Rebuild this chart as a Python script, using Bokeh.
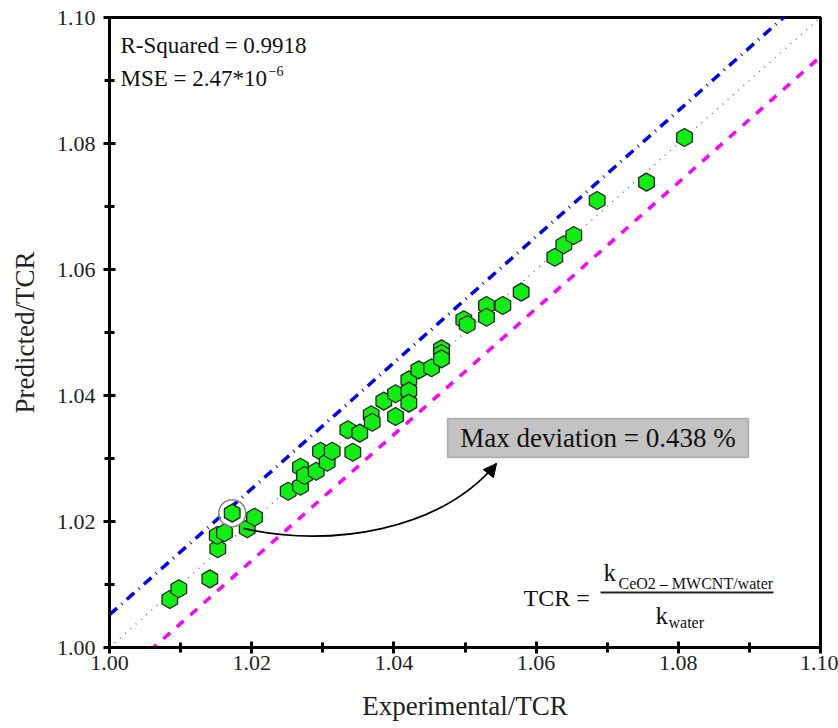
import numpy as np
from bokeh.plotting import figure
from bokeh.models import Range1d, SingleIntervalTicker, Label, BoxAnnotation, Arrow, NormalHead, PrintfTickFormatter
from bokeh.embed import file_html
from bokeh.resources import INLINE

# data
experimental = [1.00848, 1.00975, 1.01411, 1.01523, 1.01515, 1.01617, 1.01726, 1.01937, 1.02039,
                1.02513, 1.02686, 1.02686, 1.02743, 1.02907, 1.02968, 1.03062, 1.03132, 1.03422,
                1.03352, 1.03520, 1.03681, 1.03695, 1.04023, 1.03858, 1.04023, 1.04210, 1.04210,
                1.04210, 1.04350, 1.04529, 1.04669, 1.04669, 1.04669, 1.04983, 1.05031, 1.05302,
                1.05302, 1.05532, 1.05790, 1.06263, 1.06390, 1.06530, 1.06859, 1.07553, 1.08087]
predicted = [1.00762, 1.00932, 1.01090, 1.01567, 1.01778, 1.01821, 1.02132, 1.01884, 1.02068,
             1.02481, 1.02560, 1.02862, 1.02730, 1.02798, 1.03116, 1.02941, 1.03116, 1.03100,
             1.03456, 1.03402, 1.03694, 1.03576, 1.03667, 1.03910, 1.04027, 1.04249, 1.04070,
             1.03879, 1.04406, 1.04440, 1.04741, 1.04667, 1.04582, 1.05202, 1.05127, 1.05429,
             1.05243, 1.05429, 1.05640, 1.06195, 1.06392, 1.06540, 1.07095, 1.07386, 1.08095]
max_dev_index = 6
line_x = [1.0, 1.1]
upper_offset = 0.0052
lower_offset = -0.0062

FONT = "Liberation Serif, Times New Roman, serif"

p = figure(width=838, height=728, output_backend="svg", toolbar_location=None,
           x_range=Range1d(1.0, 1.1), y_range=Range1d(1.0, 1.1),
           min_border_left=109, min_border_right=18, min_border_top=17, min_border_bottom=81)
p.xgrid.visible = False
p.ygrid.visible = False
p.background_fill_color = "white"
p.border_fill_color = "white"
p.outline_line_color = "black"
p.outline_line_width = 3

for ax in (p.xaxis[0], p.yaxis[0]):
    ax.ticker = SingleIntervalTicker(interval=0.02, num_minor_ticks=2)
    ax.formatter = PrintfTickFormatter(format="%.2f")
    ax.axis_line_width = 3
    ax.major_tick_line_width = 3
    ax.minor_tick_line_width = 3
    ax.major_tick_in = 6
    ax.major_tick_out = 6
    ax.minor_tick_in = 5
    ax.minor_tick_out = 5
    ax.major_label_text_font = FONT
    ax.major_label_text_font_size = "22px"
    ax.major_label_text_color = "#222222"
    ax.axis_label_text_font = FONT
    ax.axis_label_text_font_size = "27px"
    ax.axis_label_text_font_style = "normal"
    ax.axis_label_text_color = "#222222"
p.xaxis.axis_label = "Experimental/TCR"
p.yaxis.axis_label = "Predicted/TCR"
p.xaxis.major_label_standoff = 2
p.xaxis.axis_label_standoff = 18
p.yaxis.major_label_standoff = 8
p.yaxis.axis_label_standoff = 14

# reference lines
lx = np.array(line_x)
p.line(lx, lx, line_color="#777777", line_width=1.5, line_dash="1 6")
p.line(lx, lx + upper_offset, line_color="#0000ff", line_width=3.5, line_dash="10 6 1 6")
p.line(lx, lx + lower_offset, line_color="#ff00ff", line_width=3.5, line_dash="9 9")

# points
p.scatter(experimental, predicted, marker="hex", size=18, angle=np.pi / 6,
          fill_color="#11ee11", line_color="#222222", line_width=1.3)

# highlight circle around max deviation point
p.scatter([experimental[max_dev_index]], [predicted[max_dev_index]], marker="circle", size=27,
          fill_color=None, line_color="#888888", line_width=1.5)

# curved arrow
p.bezier(x0=[1.01885], y0=[1.01889], x1=[1.05443], y1=[1.02921],
         cx0=[1.03108], cy0=[1.01571], cx1=[1.04655], cy1=[1.01857],
         line_color="black", line_width=1.8)
p.add_layout(Arrow(end=NormalHead(size=13, fill_color="black", line_color="black"),
                   x_start=1.05331, y_start=1.02762, x_end=1.05443, y_end=1.02921,
                   line_color="black", line_width=1.8))

# max deviation box
p.add_layout(BoxAnnotation(left=1.04754, right=1.08987, bottom=1.03016, top=1.03635,
                           fill_color="#c3c3c3", fill_alpha=1.0, line_color="#333333", line_width=1.5))
p.add_layout(Label(x=1.06871, y=1.03325, text="Max deviation = 0.438 %", text_align="center",
                   text_baseline="middle", text_font=FONT, text_font_size="27px",
                   text_color="#111111"))

# statistics text
p.add_layout(Label(x=1.00155, y=1.09556, text="R-Squared = 0.9918", text_font=FONT,
                   text_font_size="23px", text_baseline="alphabetic", text_color="#111111"))
p.add_layout(Label(x=1.00155, y=1.09032, text="MSE = 2.47*10", text_font=FONT,
                   text_font_size="23px", text_baseline="alphabetic", text_color="#111111"))
p.add_layout(Label(x=1.02236, y=1.09143, text="\u22126", text_font=FONT,
                   text_font_size="14px", text_baseline="alphabetic", text_color="#111111"))

# TCR formula
p.add_layout(Label(x=1.05823, y=1.00778, text="TCR =", text_font=FONT,
                   text_font_size="24px", text_baseline="alphabetic", text_color="#111111"))
p.add_layout(Label(x=1.06948, y=1.01190, text="k", text_font=FONT,
                   text_font_size="25px", text_baseline="alphabetic", text_color="#111111"))
p.add_layout(Label(x=1.07159, y=1.01016, text="CeO2 \u2013 MWCNT/water", text_font=FONT,
                   text_font_size="16px", text_baseline="alphabetic", text_color="#111111"))
p.line([1.06906, 1.09339], [1.00873, 1.00873], line_color="#222222", line_width=2)
p.add_layout(Label(x=1.07679, y=1.00508, text="k", text_font=FONT,
                   text_font_size="25px", text_baseline="alphabetic", text_color="#111111"))
p.add_layout(Label(x=1.07862, y=1.00397, text="water", text_font=FONT,
                   text_font_size="16px", text_baseline="alphabetic", text_color="#111111"))

open("out.html", "w").write(file_html(p, INLINE))
